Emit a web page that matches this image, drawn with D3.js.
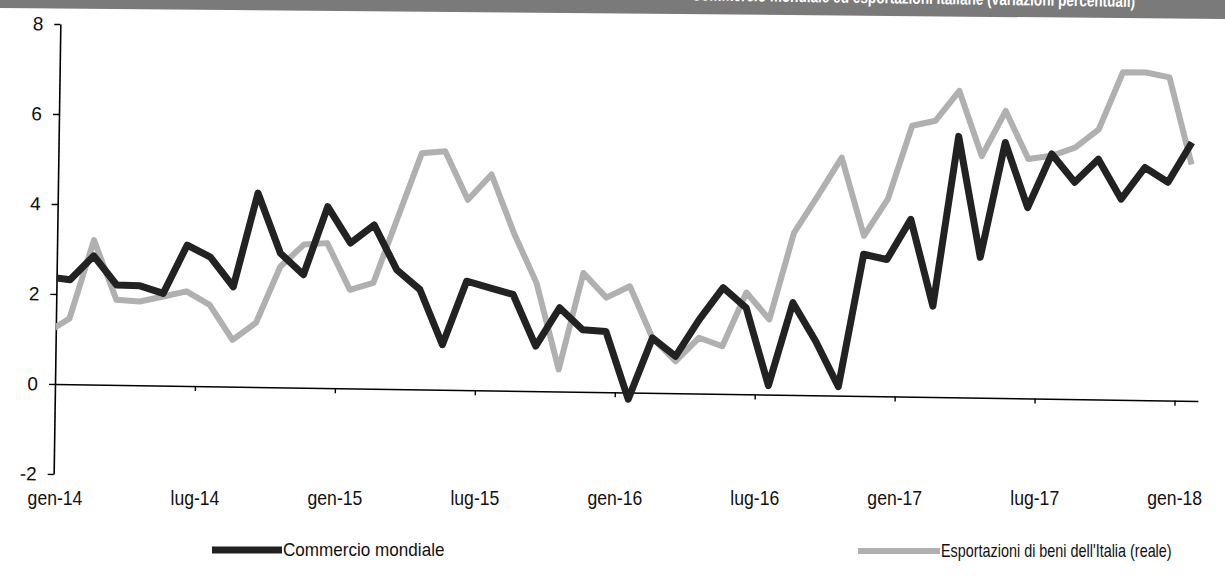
<!DOCTYPE html>
<html><head><meta charset="utf-8">
<script src="https://cdn.jsdelivr.net/npm/d3@7"></script>
<style>body{margin:0;background:#fff;} svg{display:block}</style>
</head><body><svg id="c" width="1225" height="579"></svg>
<script>
// ---- data ----
const months = ["dic-13",
 "gen-14","feb-14","mar-14","apr-14","mag-14","giu-14","lug-14","ago-14","set-14","ott-14","nov-14","dic-14",
 "gen-15","feb-15","mar-15","apr-15","mag-15","giu-15","lug-15","ago-15","set-15","ott-15","nov-15","dic-15",
 "gen-16","feb-16","mar-16","apr-16","mag-16","giu-16","lug-16","ago-16","set-16","ott-16","nov-16","dic-16",
 "gen-17","feb-17","mar-17","apr-17","mag-17","giu-17","lug-17","ago-17","set-17","ott-17","nov-17","dic-17",
 "gen-18"];
const commercio = [2.38,
 2.32,2.86,2.22,2.21,2.05,3.13,2.87,2.22,4.31,2.98,2.51,4.03,
 3.23,3.64,2.65,2.22,1.00,2.42,2.28,2.14,1.00,1.86,1.38,1.35,
 -0.15,1.22,0.82,1.65,2.36,1.92,0.20,2.05,1.20,0.20,3.15,3.04,
 3.94,2.02,5.80,3.12,5.68,4.24,5.44,4.82,5.34,4.46,5.17,4.85,
 5.74];
const esportazioni = [1.13,
 1.46,3.21,1.89,1.86,1.98,2.10,1.81,1.04,1.43,2.68,3.18,3.22,
 2.19,2.35,3.80,5.25,5.30,4.23,4.80,3.50,2.40,0.49,2.64,2.10,
 2.36,1.22,0.71,1.24,1.06,2.26,1.67,3.60,4.43,5.29,3.56,4.38,
 6.02,6.14,6.81,5.37,6.38,5.32,5.40,5.59,6.00,7.28,7.28,7.18,
 5.25];
const yTicks = [-2,0,2,4,6,8];
const xTickLabels = ["gen-14","lug-14","gen-15","lug-15","gen-16","lug-16","gen-17","lug-17","gen-18"];
const seriesNames = ["Commercio mondiale","Esportazioni di beni dell'Italia (reale)"];
const titleText = "Commercio mondiale ed esportazioni italiane (variazioni percentuali)";

// ---- layout ----
const svg = d3.select("#c");
const FONT = "'Liberation Sans',Arial,sans-serif";
const x = d3.scaleLinear().domain([0, 49]).range([55, 1198]);
const y = d3.scaleLinear().domain([-2, 8]).range([474, 24]);
const OFFSET = 0.58; // points sit inside their month
const idx = i => i - 1 + OFFSET;
const dark = "#222222", light = "#b0b0b0";

// title band (scanned header, mostly cut off)
svg.append("path").attr("d","M0,0 L1225,0 L1225,19 L0,8 Z").attr("fill","#7a7a7a");
svg.append("g").attr("transform","translate(1135,7) rotate(0.85) scale(0.8,1)")
  .append("text").attr("text-anchor","end")
  .attr("font-family",FONT).attr("font-weight","bold").attr("font-size",17)
  .attr("fill","#fff").text(titleText);

const g = svg.append("g").attr("transform", `rotate(0.85 55 ${y(0)})`);

g.append("clipPath").attr("id","clip").append("rect")
  .attr("x",55).attr("y",0).attr("width",1198-55).attr("height",579);

// y axis
const ya = g.append("g").attr("transform","translate(55,0)")
  .call(d3.axisLeft(y).tickValues(yTicks).tickSize(6).tickSizeOuter(0).tickFormat(d => String(d)));
ya.select(".domain").attr("stroke","#000").attr("stroke-width",1.6);
ya.selectAll(".tick line").attr("stroke","#000").attr("stroke-width",1.4);
ya.selectAll(".tick text").attr("font-family",FONT)
  .attr("font-size",19).attr("fill","#111").attr("x",-17);

// x axis at zero
const xa = g.append("g").attr("transform",`translate(0,${y(0)})`)
  .call(d3.axisBottom(x).tickValues(d3.range(6, 49, 6)).tickSize(5).tickSizeOuter(0).tickFormat(""));
xa.select(".domain").attr("stroke","#000").attr("stroke-width",1.5);
xa.selectAll(".tick line").attr("stroke","#000").attr("stroke-width",1.4);

// lines
const line = vals => d3.line().x((d,i)=>x(idx(i))).y(d=>y(d)).curve(d3.curveLinear)(vals);
const lg = g.append("g").attr("clip-path","url(#clip)");
lg.append("path").attr("d", line(esportazioni)).attr("fill","none")
  .attr("stroke",light).attr("stroke-width",6).attr("stroke-linejoin","round");
lg.append("path").attr("d", line(commercio)).attr("fill","none")
  .attr("stroke",dark).attr("stroke-width",7).attr("stroke-linejoin","round");

// x labels (narrow face emulated with a horizontal scale)
svg.append("g").selectAll("g").data(xTickLabels).join("g")
  .attr("transform",(d,i)=>`translate(${x(i*6)},505) scale(0.88,1)`)
  .append("text").attr("text-anchor","middle")
  .attr("font-family",FONT).attr("font-size",20).attr("fill","#111").text(d=>d);

// legend
const legend = [
  {name: seriesNames[0], color: dark, w: 7, x0: 212, x1: 282, ty: 556, k: 0.95},
  {name: seriesNames[1], color: light, w: 6, x0: 858, x1: 940, ty: 557, k: 0.8}
];
const lgd = svg.append("g").selectAll("g").data(legend).join("g");
lgd.append("line").attr("x1",d=>d.x0).attr("x2",d=>d.x1).attr("y1",d=>d.ty-6).attr("y2",d=>d.ty-6)
  .attr("stroke",d=>d.color).attr("stroke-width",d=>d.w);
lgd.append("g").attr("transform",d=>`translate(${d.x1+1},${d.ty}) scale(${d.k},1)`)
  .append("text").attr("font-family",FONT).attr("font-size",18).attr("fill","#111").text(d=>d.name);
</script></body></html>
